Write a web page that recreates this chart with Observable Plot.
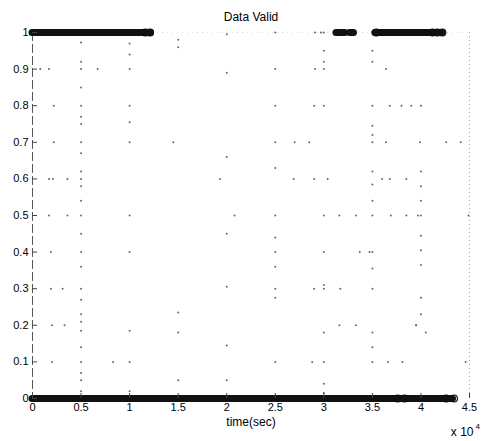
<!DOCTYPE html>
<html>
<head>
<meta charset="utf-8">
<script src="https://cdn.jsdelivr.net/npm/d3@7"></script>
<script src="https://cdn.jsdelivr.net/npm/@observablehq/plot@0.6"></script>
<style>
  html, body { margin: 0; padding: 0; background: white; }
</style>
</head>
<body>
<div id="chart"></div>
<script>
const titleText = "Data Valid";
const xLabelText = "time(sec)";
const xExponentBase = "x 10";
const xExponent = "4";

const xTicks = [0, 5000, 10000, 15000, 20000, 25000, 30000, 35000, 40000, 45000];
const xTickLabels = ["0", "0.5", "1", "1.5", "2", "2.5", "3", "3.5", "4", "4.5"];
const yTicks = [0, 0.1, 0.2, 0.3, 0.4, 0.5, 0.6, 0.7, 0.8, 0.9, 1];
const yTickLabels = ["0", "0.1", "0.2", "0.3", "0.4", "0.5", "0.6", "0.7", "0.8", "0.9", "1"];

// Dense runs of overlapping samples (appear as solid bars)
const runLevel = [1, 1, 1, 1, 0];
const runStart = [0, 31300, 32700, 35300, 0];
const runEnd = [12200, 32200, 33100, 42200, 43300];

// Individually visible circle markers at run ends
const ringX = [11600, 12100, 35400, 41200, 41700, 42200, 37600, 38300, 42600, 43400];
const ringY = [1, 1, 1, 1, 1, 1, 0, 0, 0, 0];

// Sparse samples at intermediate values
const sparseX = [
  800, 1700, 2200, 2200, 1700, 2100, 3600, 1700, 3600, 1900, 1900, 3100, 2000, 3300, 2000, 8300, 6700,
  5000, 5000, 5000, 5000, 5000, 5000, 5000, 5000, 5000, 5000, 5000, 5000, 5000, 5000, 5000, 5000, 5000,
  5000, 5000, 5000, 5000, 5000, 5000, 5000, 5000, 5000, 5000,
  10000, 10000, 10000, 10000, 10000, 10000, 10000, 10000, 10000, 10000, 10000,
  15000, 15000, 15000, 15000, 15000, 14500,
  20000, 20000, 20000, 20000, 20000, 20000, 20000, 19300, 20800,
  25000, 25000, 25000, 25000, 25000, 25000, 25000, 25000, 25000, 25000, 25000, 25000,
  29100, 29700, 29100, 29000, 27000, 28500, 26900, 29000, 29000, 28800,
  30000, 30000, 30000, 30000, 30000, 30400, 30000, 30000, 30000, 30000, 30000, 30000, 30000, 30000,
  35000, 35000, 35000, 35000, 35000, 35000, 35000, 35000, 35000, 35000, 35000, 35000, 35000, 35000, 35000, 35000,
  40000, 40000, 40000, 40000, 40000, 40000, 40000, 40000, 40000, 40000, 40500, 39500,
  36400, 36800, 38000, 39000, 36400, 39900, 42600, 44100, 36000, 36800, 38500,
  31600, 33300, 36900, 38500, 39700, 44900, 33700, 34700, 31700, 31600, 33300, 39500, 36600, 38100, 44600
];
const sparseY = [
  0.9, 0.9, 0.8, 0.7, 0.6, 0.6, 0.6, 0.5, 0.5, 0.4, 0.3, 0.3, 0.2, 0.2, 0.1, 0.1, 0.9,
  0.973, 0.92, 0.9, 0.85, 0.8, 0.77, 0.75, 0.7, 0.67, 0.62, 0.6, 0.58, 0.54, 0.5, 0.45, 0.4, 0.36,
  0.3, 0.27, 0.23, 0.21, 0.185, 0.14, 0.1, 0.07, 0.05, 0.02,
  0.97, 0.94, 0.9, 0.8, 0.755, 0.7, 0.5, 0.4, 0.185, 0.1, 0.02,
  0.98, 0.96, 0.235, 0.18, 0.05, 0.7,
  0.995, 0.89, 0.66, 0.45, 0.305, 0.145, 0.05, 0.6, 0.5,
  1, 0.9, 0.8, 0.7, 0.63, 0.5, 0.44, 0.4, 0.36, 0.3, 0.275, 0.1,
  1, 1, 0.9, 0.8, 0.7, 0.7, 0.6, 0.6, 0.3, 0.1,
  1, 0.95, 0.92, 0.9, 0.8, 0.6, 0.5, 0.4, 0.31, 0.3, 0.18, 0.1, 0.04, 0.015,
  0.95, 0.92, 0.8, 0.745, 0.72, 0.7, 0.62, 0.585, 0.54, 0.5, 0.4, 0.355, 0.3, 0.18, 0.14, 0.1,
  0.8, 0.62, 0.58, 0.54, 0.5, 0.445, 0.405, 0.365, 0.275, 0.23, 0.18, 0.2,
  0.9, 0.8, 0.8, 0.8, 0.7, 0.7, 0.7, 0.7, 0.6, 0.6, 0.6,
  0.5, 0.5, 0.5, 0.5, 0.5, 0.5, 0.4, 0.4, 0.3, 0.2, 0.2, 0.2, 0.1, 0.1, 0.1
];

const runs = runLevel.map((y, i) => ({y, x1: runStart[i], x2: runEnd[i]}));
const rings = ringX.map((x, i) => ({x, y: ringY[i]}));
const sparse = sparseX.map((x, i) => ({x, y: sparseY[i]}));

const chart = Plot.plot({
  width: 481,
  height: 441,
  marginLeft: 32,
  marginRight: 12,
  marginTop: 32,
  marginBottom: 43,
  style: {fontFamily: "'Liberation Sans', Arial, sans-serif", fontSize: "11px", background: "white", color: "black"},
  x: {domain: [0, 45000]},
  y: {domain: [0, 1]},
  marks: [
    Plot.ruleX([0], {stroke: "#555", strokeWidth: 1, strokeDasharray: "9,3"}),
    Plot.ruleX([45000], {stroke: "#aaa", strokeWidth: 1, strokeDasharray: "1,3"}),
    Plot.ruleY([1], {stroke: "#ddd", strokeWidth: 1, strokeDasharray: "1,4"}),
    Plot.dot(sparse, {x: "x", y: "y", r: 1, fill: "#666", stroke: "none"}),
    Plot.ruleY(runs, {y: "y", x1: "x1", x2: "x2", stroke: "#111", strokeWidth: 7, strokeLinecap: "round"}),
    Plot.dot(rings, {x: "x", y: "y", r: 3.5, stroke: "#111", strokeWidth: 1.2, fill: "none"}),
    Plot.axisX({ticks: xTicks, tickFormat: d => xTickLabels[xTicks.indexOf(d)], tickSize: -5, tickPadding: 10, label: null, stroke: "#444"}),
    Plot.axisY({ticks: yTicks, tickFormat: d => yTickLabels[yTicks.indexOf(d)], tickSize: -5, tickPadding: 9, label: null, stroke: "#444"}),
    Plot.text([titleText], {frameAnchor: "top", dy: -20, fontSize: 12}),
    Plot.text([xLabelText], {frameAnchor: "bottom", dy: 27, fontSize: 12}),
    Plot.text([xExponentBase], {frameAnchor: "bottom-right", dx: 4, dy: 37, textAnchor: "end", fontSize: 12}),
    Plot.text([xExponent], {frameAnchor: "bottom-right", dx: 6, dy: 30, textAnchor: "start", fontSize: 8})
  ]
});
document.getElementById("chart").appendChild(chart);
</script>
</body>
</html>
